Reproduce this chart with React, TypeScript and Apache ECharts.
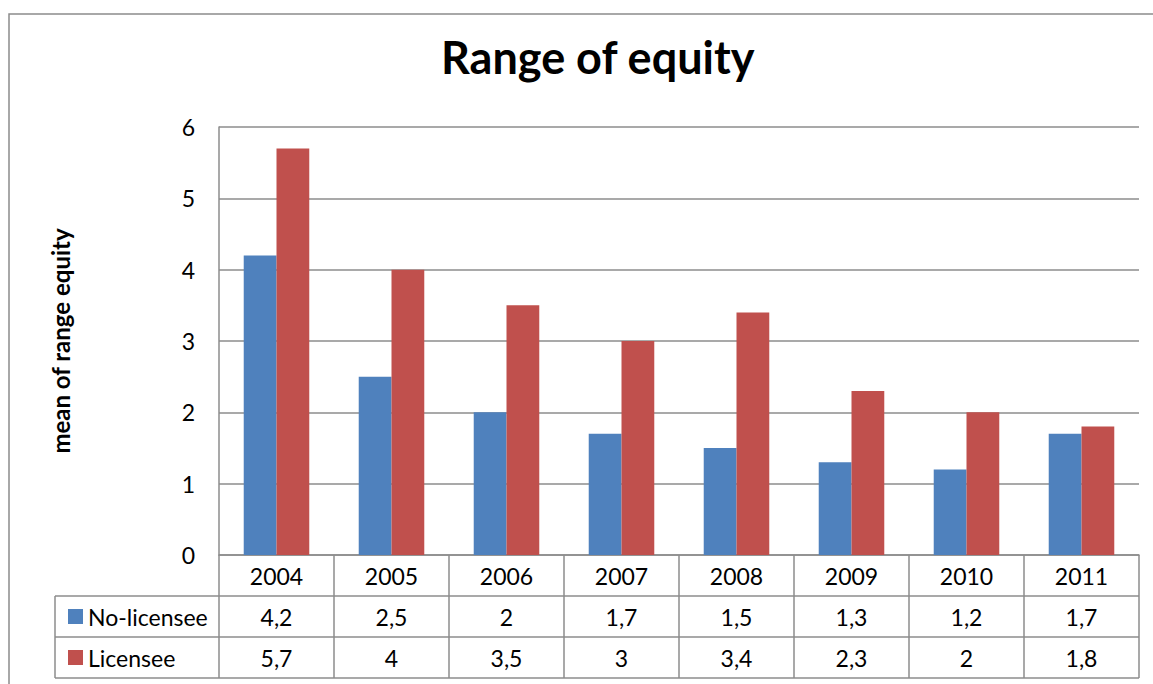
import React, { useEffect, useRef } from "react";
import * as echarts from "echarts";

const categories = ["2004", "2005", "2006", "2007", "2008", "2009", "2010", "2011"];
const noLicensee = [4.2, 2.5, 2, 1.7, 1.5, 1.3, 1.2, 1.7];
const licensee = [5.7, 4, 3.5, 3, 3.4, 2.3, 2, 1.8];
const seriesNames = ["No-licensee", "Licensee"];
const yTicks = [0, 1, 2, 3, 4, 5, 6];

const FONT = "Lato, 'Open Sans', sans-serif";
const GRAY = "#8c8c8c";
const fmt = (v: number) => String(v).replace(".", ",");

export default function App() {
  const ref = useRef<HTMLDivElement>(null);
  useEffect(() => {
    if (!ref.current) return;
    const chart = echarts.init(ref.current, undefined, { renderer: "svg" });
    const gridLeft = 219;
    const gridRight = 1139;
    const axisY = 555;
    const rowH = 41;
    const fs = 23;
    const legendBase = {
      orient: "vertical",
      left: 63,
      itemWidth: 15,
      itemHeight: 15,
      icon: "rect",
      selectedMode: false,
      textStyle: { fontSize: fs, color: "#000", fontFamily: FONT },
    };
    chart.setOption({
      animation: false,
      backgroundColor: "#fff",
      textStyle: { fontFamily: FONT },
      title: {
        text: "Range of equity",
        left: 436,
        top: 29,
        textStyle: { fontSize: 45, fontWeight: "bold", color: "#000", fontFamily: FONT },
      },
      legend: [
        { ...legendBase, top: axisY + rowH + 4, data: [seriesNames[0]] },
        { ...legendBase, top: axisY + rowH * 2 + 4, data: [seriesNames[1]] },
      ],
      grid: { left: gridLeft, top: 127, right: 1153 - gridRight, bottom: 684 - axisY },
      xAxis: {
        type: "category",
        data: categories,
        axisLine: { show: true, lineStyle: { color: GRAY, width: 1.5 } },
        axisTick: { show: true, length: rowH * 3, lineStyle: { color: GRAY, width: 1.5 } },
        axisLabel: {
          margin: 0,
          color: "#000",
          fontSize: fs,
          lineHeight: rowH,
          fontFamily: FONT,
          formatter: (val: string, idx: number) =>
            `${val}\n${fmt(noLicensee[idx])}\n${fmt(licensee[idx])}`,
        },
      },
      yAxis: {
        type: "value",
        min: yTicks[0],
        max: yTicks[yTicks.length - 1],
        interval: 1,
        name: "mean of range equity",
        nameLocation: "middle",
        nameGap: 147,
        nameTextStyle: { fontSize: 24, fontWeight: "bold", color: "#000", fontFamily: FONT },
        axisLine: { show: true, lineStyle: { color: GRAY, width: 1.5 } },
        axisTick: { show: false },
        splitLine: { show: true, lineStyle: { color: GRAY, width: 1.5 } },
        axisLabel: { color: "#000", fontSize: fs, margin: 24, fontFamily: FONT },
      },
      series: [
        {
          name: seriesNames[0],
          type: "bar",
          data: noLicensee,
          barGap: "0%",
          barCategoryGap: "43%",
          itemStyle: { color: "#4F81BD" },
        },
        {
          name: seriesNames[1],
          type: "bar",
          data: licensee,
          barGap: "0%",
          barCategoryGap: "43%",
          itemStyle: { color: "#C0504D" },
        },
      ],
      graphic: [
        {
          type: "rect",
          silent: true,
          shape: { x: 9, y: 14, width: 1300, height: 800 },
          style: { fill: "none", stroke: GRAY, lineWidth: 1.5 },
        },
        ...[1, 2, 3].map((i) => ({
          type: "line",
          silent: true,
          shape: { x1: 55, y1: axisY + rowH * i, x2: gridRight, y2: axisY + rowH * i },
          style: { stroke: GRAY, lineWidth: 1.5 },
        })),
        {
          type: "line",
          silent: true,
          shape: { x1: 55, y1: axisY + rowH, x2: 55, y2: axisY + rowH * 3 },
          style: { stroke: GRAY, lineWidth: 1.5 },
        },
      ],
    });
    return () => chart.dispose();
  }, []);
  return (
    <div
      ref={ref}
      style={{ position: "absolute", left: 0, top: 0, width: 1153, height: 684 }}
    />
  );
}
